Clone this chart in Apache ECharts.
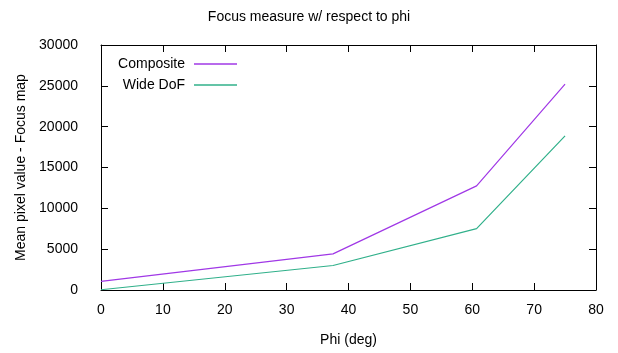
<!DOCTYPE html>
<html>
<head>
<meta charset="utf-8">
<script src="https://cdn.jsdelivr.net/npm/echarts@6/dist/echarts.min.js"></script>
<style>
  html, body { margin: 0; padding: 0; background: #fff; }
  #chart { width: 618px; height: 353px; }
</style>
</head>
<body>
<div id="chart"></div>
<script>
// phi (deg) values and the mean pixel values
const phi = [0, 37.5, 60.7, 75];
const composite = [1050, 4420, 12750, 25200];
const wideDof = [30, 3000, 7520, 18880];

const xTicks = [0, 10, 20, 30, 40, 50, 60, 70, 80];
const yTicks = [0, 5000, 10000, 15000, 20000, 25000, 30000];

const chart = echarts.init(document.getElementById('chart'));
const font = 'Liberation Sans';
const fs = 14;

const tick = { show: true, inside: true, length: 7, lineStyle: { color: '#000' } };
const line = { show: true, onZero: false, lineStyle: { color: '#000', width: 1 } };
const legendText = { fontFamily: font, fontSize: fs, color: '#000', padding: [0, 4, 0, 0] };

const option = {
  animation: false,
  textStyle: { fontFamily: font, color: '#000' },
  title: {
    text: 'Focus measure w/ respect to phi',
    left: 'center',
    top: 5,
    textStyle: { fontFamily: font, fontSize: fs, fontWeight: 'normal', color: '#000' },
  },
  grid: { left: 101, right: 22, top: 45, bottom: 63 },
  legend: [
    {
      data: ['Composite'],
      align: 'right',
      right: 376,
      top: 52,
      icon: 'rect',
      itemWidth: 43,
      itemHeight: 1.5,
      textStyle: legendText,
    },
    {
      data: ['Wide DoF'],
      align: 'right',
      right: 376,
      top: 73,
      icon: 'rect',
      itemWidth: 43,
      itemHeight: 1.5,
      textStyle: legendText,
    },
  ],
  xAxis: [
    {
      type: 'value',
      min: xTicks[0],
      max: xTicks[xTicks.length - 1],
      interval: 10,
      name: 'Phi (deg)',
      nameLocation: 'middle',
      nameGap: 43,
      nameTextStyle: { fontFamily: font, fontSize: fs, color: '#000' },
      axisLine: line,
      axisTick: tick,
      axisLabel: { margin: 13, fontFamily: font, fontSize: fs, color: '#000' },
      splitLine: { show: false },
    },
    {
      type: 'value',
      position: 'top',
      min: xTicks[0],
      max: xTicks[xTicks.length - 1],
      interval: 10,
      axisLine: line,
      axisTick: tick,
      axisLabel: { show: false },
      splitLine: { show: false },
    },
  ],
  yAxis: [
    {
      type: 'value',
      min: yTicks[0],
      max: yTicks[yTicks.length - 1],
      interval: 5000,
      name: 'Mean pixel value - Focus map',
      nameLocation: 'middle',
      nameGap: 71,
      nameTextStyle: { fontFamily: font, fontSize: fs, color: '#000' },
      axisLine: line,
      axisTick: tick,
      axisLabel: { margin: 23, fontFamily: font, fontSize: fs, color: '#000', formatter: (v) => String(v) },
      splitLine: { show: false },
    },
    {
      type: 'value',
      position: 'right',
      min: yTicks[0],
      max: yTicks[yTicks.length - 1],
      interval: 5000,
      axisLine: line,
      axisTick: tick,
      axisLabel: { show: false },
      splitLine: { show: false },
    },
  ],
  series: [
    {
      name: 'Composite',
      type: 'line',
      data: phi.map((x, i) => [x, composite[i]]),
      symbol: 'none',
      lineStyle: { color: '#a038e6', width: 1.2 },
      itemStyle: { color: '#a038e6' },
    },
    {
      name: 'Wide DoF',
      type: 'line',
      data: phi.map((x, i) => [x, wideDof[i]]),
      symbol: 'none',
      lineStyle: { color: '#30b08a', width: 1.2 },
      itemStyle: { color: '#30b08a' },
    },
  ],
};

chart.setOption(option);
</script>
</body>
</html>
